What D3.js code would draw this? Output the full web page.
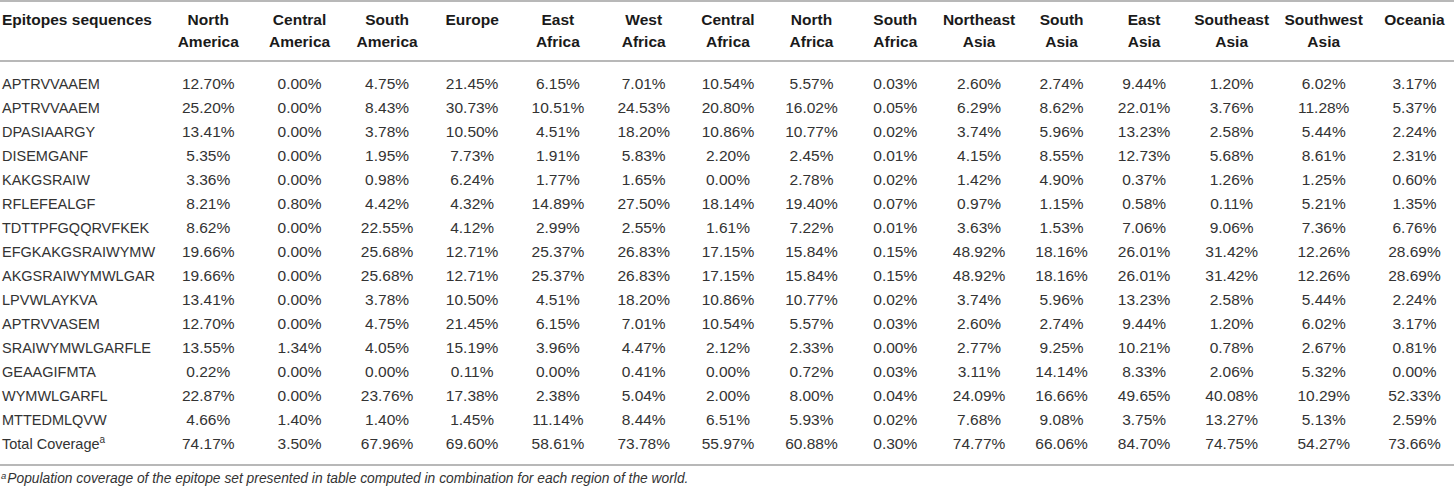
<!DOCTYPE html>
<html>
<head>
<meta charset="utf-8">
<script src="https://cdn.jsdelivr.net/npm/d3@7"></script>
<style>
  body { margin: 0; background: #fff; }
  svg text { font-family: "Liberation Sans", Arial, Helvetica, sans-serif; }
</style>
</head>
<body>
<svg id="chart" width="1454" height="490"></svg>
<script>
"use strict";

// table data
const regions = ["North America", "Central America", "South America", "Europe",
  "East Africa", "West Africa", "Central Africa", "North Africa", "South Africa",
  "Northeast Asia", "South Asia", "East Asia", "Southeast Asia", "Southwest Asia", "Oceania"];

const epitopes = ["APTRVVAAEM", "APTRVVAAEM", "DPASIAARGY", "DISEMGANF", "KAKGSRAIW",
  "RFLEFEALGF", "TDTTPFGQQRVFKEK", "EFGKAKGSRAIWYMW", "AKGSRAIWYMWLGAR", "LPVWLAYKVA",
  "APTRVVASEM", "SRAIWYMWLGARFLE", "GEAAGIFMTA", "WYMWLGARFL", "MTTEDMLQVW"];

const northAmerica   = [12.70, 25.20, 13.41, 5.35, 3.36, 8.21, 8.62, 19.66, 19.66, 13.41, 12.70, 13.55, 0.22, 22.87, 4.66];
const centralAmerica = [0.00, 0.00, 0.00, 0.00, 0.00, 0.80, 0.00, 0.00, 0.00, 0.00, 0.00, 1.34, 0.00, 0.00, 1.40];
const southAmerica   = [4.75, 8.43, 3.78, 1.95, 0.98, 4.42, 22.55, 25.68, 25.68, 3.78, 4.75, 4.05, 0.00, 23.76, 1.40];
const europe         = [21.45, 30.73, 10.50, 7.73, 6.24, 4.32, 4.12, 12.71, 12.71, 10.50, 21.45, 15.19, 0.11, 17.38, 1.45];
const eastAfrica     = [6.15, 10.51, 4.51, 1.91, 1.77, 14.89, 2.99, 25.37, 25.37, 4.51, 6.15, 3.96, 0.00, 2.38, 11.14];
const westAfrica     = [7.01, 24.53, 18.20, 5.83, 1.65, 27.50, 2.55, 26.83, 26.83, 18.20, 7.01, 4.47, 0.41, 5.04, 8.44];
const centralAfrica  = [10.54, 20.80, 10.86, 2.20, 0.00, 18.14, 1.61, 17.15, 17.15, 10.86, 10.54, 2.12, 0.00, 2.00, 6.51];
const northAfrica    = [5.57, 16.02, 10.77, 2.45, 2.78, 19.40, 7.22, 15.84, 15.84, 10.77, 5.57, 2.33, 0.72, 8.00, 5.93];
const southAfrica    = [0.03, 0.05, 0.02, 0.01, 0.02, 0.07, 0.01, 0.15, 0.15, 0.02, 0.03, 0.00, 0.03, 0.04, 0.02];
const northeastAsia  = [2.60, 6.29, 3.74, 4.15, 1.42, 0.97, 3.63, 48.92, 48.92, 3.74, 2.60, 2.77, 3.11, 24.09, 7.68];
const southAsia      = [2.74, 8.62, 5.96, 8.55, 4.90, 1.15, 1.53, 18.16, 18.16, 5.96, 2.74, 9.25, 14.14, 16.66, 9.08];
const eastAsia       = [9.44, 22.01, 13.23, 12.73, 0.37, 0.58, 7.06, 26.01, 26.01, 13.23, 9.44, 10.21, 8.33, 49.65, 3.75];
const southeastAsia  = [1.20, 3.76, 2.58, 5.68, 1.26, 0.11, 9.06, 31.42, 31.42, 2.58, 1.20, 0.78, 2.06, 40.08, 13.27];
const southwestAsia  = [6.02, 11.28, 5.44, 8.61, 1.25, 5.21, 7.36, 12.26, 12.26, 5.44, 6.02, 2.67, 5.32, 10.29, 5.13];
const oceania        = [3.17, 5.37, 2.24, 2.31, 0.60, 1.35, 6.76, 28.69, 28.69, 2.24, 3.17, 0.81, 0.00, 52.33, 2.59];

const totalCoverage  = [74.17, 3.50, 67.96, 69.60, 58.61, 73.78, 55.97, 60.88, 0.30, 74.77, 66.06, 84.70, 74.75, 54.27, 73.66];

const series = [northAmerica, centralAmerica, southAmerica, europe, eastAfrica, westAfrica,
  centralAfrica, northAfrica, southAfrica, northeastAsia, southAsia, eastAsia,
  southeastAsia, southwestAsia, oceania];

const footnote = "Population coverage of the epitope set presented in table computed in combination for each region of the world.";

// layout
const width = 1454;
const labelSize = 14.5, valueSize = 15.5, headSize = 15.5;
const ruleColor = "#b8b8b8";
const textColor = "#333";
// relative widths of the region columns
const colWidths = [92.5, 90, 85, 85, 86.5, 85, 83.5, 83.5, 84, 83.5, 81.5, 83.5, 91.5, 92.5, 89];
const tableTop = 1, headRule = 61, tableBottom = 465;

const svg = d3.select("#chart");

// column scale: cumulative widths mapped to pixels
const edges = [0, ...d3.cumsum(colWidths)];
const xUnits = d3.scaleLinear().domain([0, edges[edges.length - 1]]).range([162, 1459]);
const xCol = d3.scaleOrdinal()
  .domain(regions)
  .range(regions.map((r, i) => xUnits((edges[i] + edges[i + 1]) / 2)));

// row scale
const rowKeys = epitopes.map((e, i) => i).concat(["total"]);
const y = d3.scalePoint().domain(rowKeys).range([84, 444]);

const fmt = v => d3.format(".2f")(v) + "%";

// horizontal rules
svg.selectAll("line.rule")
  .data([tableTop, headRule, tableBottom])
  .enter().append("line")
  .attr("class", "rule")
  .attr("x1", 0).attr("x2", width)
  .attr("y1", d => d).attr("y2", d => d)
  .attr("stroke", ruleColor)
  .attr("stroke-width", 2);

// header
const head = svg.append("g").attr("class", "head")
  .attr("font-weight", "bold").attr("font-size", headSize).attr("fill", "#1a1a1a");

head.append("text")
  .attr("x", 2).attr("y", 20).attr("dy", "0.35em")
  .text("Epitopes sequences");

head.selectAll("text.region")
  .data(regions)
  .enter().append("text")
  .attr("class", "region")
  .attr("x", d => xCol(d))
  .attr("y", 20)
  .attr("text-anchor", "middle")
  .each(function (d) {
    const words = d.split(" ");
    d3.select(this).selectAll("tspan")
      .data(words)
      .enter().append("tspan")
      .attr("x", xCol(d))
      .attr("dy", (w, i) => i === 0 ? "0.35em" : "1.4em")
      .text(w => w);
  });

// body rows
const body = svg.append("g").attr("class", "body").attr("fill", textColor);

body.selectAll("text.label")
  .data(epitopes)
  .enter().append("text")
  .attr("class", "label")
  .attr("x", 2)
  .attr("y", (d, i) => y(i))
  .attr("dy", "0.35em")
  .attr("font-size", labelSize)
  .text(d => d);

const totalLabel = body.append("text")
  .attr("x", 2).attr("y", y("total")).attr("dy", "0.35em")
  .attr("font-size", labelSize)
  .text("Total Coverage");
totalLabel.append("tspan")
  .attr("font-size", 10).attr("dy", "-0.6em")
  .text("a");

const cells = [];
series.forEach((values, c) => {
  values.forEach((v, r) => cells.push({ region: regions[c], row: r, value: v }));
  cells.push({ region: regions[c], row: "total", value: totalCoverage[c] });
});

body.selectAll("text.cell")
  .data(cells)
  .enter().append("text")
  .attr("class", "cell")
  .attr("x", d => xCol(d.region))
  .attr("y", d => y(d.row))
  .attr("dy", "0.35em")
  .attr("font-size", valueSize)
  .attr("text-anchor", "middle")
  .text(d => fmt(d.value));

// footnote
const note = svg.append("text")
  .attr("x", 1).attr("y", 482).attr("dy", "0.35em")
  .attr("font-size", 13.8).attr("font-style", "italic").attr("fill", textColor);
note.append("tspan").attr("font-size", 9.5).attr("dy", "-0.3em").text("a");
note.append("tspan").attr("dy", "0.3em").attr("dx", 1).text(footnote);
</script>
</body>
</html>
